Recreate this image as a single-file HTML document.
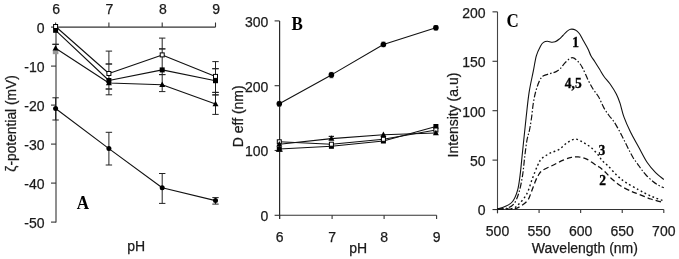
<!DOCTYPE html>
<html><head><meta charset="utf-8"><title>Figure</title>
<style>
html,body{margin:0;padding:0;background:#fff;}
body{width:679px;height:259px;overflow:hidden;}
svg{display:block;will-change:transform;}

</style></head>
<body>
<svg width="679" height="259" viewBox="0 0 679 259">
<rect width="679" height="259" fill="#fff"/>
<line x1="55.60" y1="27.10" x2="215.50" y2="27.10" stroke="#333" stroke-width="1.1" />
<line x1="56.00" y1="27.10" x2="56.00" y2="222.60" stroke="#333" stroke-width="1.1" />
<line x1="55.60" y1="22.50" x2="55.60" y2="27.10" stroke="#333" stroke-width="1.1" />
<text x="56.20" y="13.80" text-anchor="middle" font-family="'Liberation Sans', sans-serif" font-size="14" font-weight="normal" fill="#1a1a1a" stroke="#1a1a1a" stroke-width="0.25" >6</text>
<line x1="108.90" y1="22.50" x2="108.90" y2="27.10" stroke="#333" stroke-width="1.1" />
<text x="109.50" y="13.80" text-anchor="middle" font-family="'Liberation Sans', sans-serif" font-size="14" font-weight="normal" fill="#1a1a1a" stroke="#1a1a1a" stroke-width="0.25" >7</text>
<line x1="162.20" y1="22.50" x2="162.20" y2="27.10" stroke="#333" stroke-width="1.1" />
<text x="162.80" y="13.80" text-anchor="middle" font-family="'Liberation Sans', sans-serif" font-size="14" font-weight="normal" fill="#1a1a1a" stroke="#1a1a1a" stroke-width="0.25" >8</text>
<line x1="215.50" y1="22.50" x2="215.50" y2="27.10" stroke="#333" stroke-width="1.1" />
<text x="216.10" y="13.80" text-anchor="middle" font-family="'Liberation Sans', sans-serif" font-size="14" font-weight="normal" fill="#1a1a1a" stroke="#1a1a1a" stroke-width="0.25" >9</text>
<line x1="51.00" y1="27.10" x2="56.00" y2="27.10" stroke="#333" stroke-width="1.1" />
<text x="44.60" y="33.00" text-anchor="end" font-family="'Liberation Sans', sans-serif" font-size="14" font-weight="normal" fill="#1a1a1a" stroke="#1a1a1a" stroke-width="0.25" >0</text>
<line x1="51.00" y1="66.10" x2="56.00" y2="66.10" stroke="#333" stroke-width="1.1" />
<text x="44.60" y="72.00" text-anchor="end" font-family="'Liberation Sans', sans-serif" font-size="14" font-weight="normal" fill="#1a1a1a" stroke="#1a1a1a" stroke-width="0.25" >-10</text>
<line x1="51.00" y1="105.10" x2="56.00" y2="105.10" stroke="#333" stroke-width="1.1" />
<text x="44.60" y="111.00" text-anchor="end" font-family="'Liberation Sans', sans-serif" font-size="14" font-weight="normal" fill="#1a1a1a" stroke="#1a1a1a" stroke-width="0.25" >-20</text>
<line x1="51.00" y1="144.10" x2="56.00" y2="144.10" stroke="#333" stroke-width="1.1" />
<text x="44.60" y="150.00" text-anchor="end" font-family="'Liberation Sans', sans-serif" font-size="14" font-weight="normal" fill="#1a1a1a" stroke="#1a1a1a" stroke-width="0.25" >-30</text>
<line x1="51.00" y1="183.10" x2="56.00" y2="183.10" stroke="#333" stroke-width="1.1" />
<text x="44.60" y="189.00" text-anchor="end" font-family="'Liberation Sans', sans-serif" font-size="14" font-weight="normal" fill="#1a1a1a" stroke="#1a1a1a" stroke-width="0.25" >-40</text>
<line x1="51.00" y1="222.10" x2="56.00" y2="222.10" stroke="#333" stroke-width="1.1" />
<text x="44.60" y="228.00" text-anchor="end" font-family="'Liberation Sans', sans-serif" font-size="14" font-weight="normal" fill="#1a1a1a" stroke="#1a1a1a" stroke-width="0.25" >-50</text>
<line x1="55.60" y1="44.30" x2="55.60" y2="44.30" stroke="#222" stroke-width="1.0" />
<line x1="52.40" y1="44.30" x2="58.80" y2="44.30" stroke="#222" stroke-width="1.0" />
<line x1="52.40" y1="44.30" x2="58.80" y2="44.30" stroke="#222" stroke-width="1.0" />
<line x1="55.60" y1="97.80" x2="55.60" y2="120.00" stroke="#222" stroke-width="1.0" />
<line x1="52.40" y1="97.80" x2="58.80" y2="97.80" stroke="#222" stroke-width="1.0" />
<line x1="52.40" y1="120.00" x2="58.80" y2="120.00" stroke="#222" stroke-width="1.0" />
<line x1="108.90" y1="51.10" x2="108.90" y2="94.80" stroke="#222" stroke-width="1.0" />
<line x1="105.70" y1="51.10" x2="112.10" y2="51.10" stroke="#222" stroke-width="1.0" />
<line x1="105.70" y1="94.80" x2="112.10" y2="94.80" stroke="#222" stroke-width="1.0" />
<line x1="108.90" y1="64.00" x2="108.90" y2="64.00" stroke="#222" stroke-width="1.0" />
<line x1="105.70" y1="64.00" x2="112.10" y2="64.00" stroke="#222" stroke-width="1.0" />
<line x1="105.70" y1="64.00" x2="112.10" y2="64.00" stroke="#222" stroke-width="1.0" />
<line x1="108.90" y1="89.00" x2="108.90" y2="89.00" stroke="#222" stroke-width="1.0" />
<line x1="105.70" y1="89.00" x2="112.10" y2="89.00" stroke="#222" stroke-width="1.0" />
<line x1="105.70" y1="89.00" x2="112.10" y2="89.00" stroke="#222" stroke-width="1.0" />
<line x1="108.90" y1="132.30" x2="108.90" y2="165.00" stroke="#222" stroke-width="1.0" />
<line x1="105.70" y1="132.30" x2="112.10" y2="132.30" stroke="#222" stroke-width="1.0" />
<line x1="105.70" y1="165.00" x2="112.10" y2="165.00" stroke="#222" stroke-width="1.0" />
<line x1="162.20" y1="38.10" x2="162.20" y2="91.60" stroke="#222" stroke-width="1.0" />
<line x1="159.00" y1="38.10" x2="165.40" y2="38.10" stroke="#222" stroke-width="1.0" />
<line x1="159.00" y1="91.60" x2="165.40" y2="91.60" stroke="#222" stroke-width="1.0" />
<line x1="162.20" y1="48.90" x2="162.20" y2="48.90" stroke="#222" stroke-width="1.0" />
<line x1="159.00" y1="48.90" x2="165.40" y2="48.90" stroke="#222" stroke-width="1.0" />
<line x1="159.00" y1="48.90" x2="165.40" y2="48.90" stroke="#222" stroke-width="1.0" />
<line x1="162.20" y1="74.60" x2="162.20" y2="74.60" stroke="#222" stroke-width="1.0" />
<line x1="159.00" y1="74.60" x2="165.40" y2="74.60" stroke="#222" stroke-width="1.0" />
<line x1="159.00" y1="74.60" x2="165.40" y2="74.60" stroke="#222" stroke-width="1.0" />
<line x1="162.20" y1="173.50" x2="162.20" y2="203.40" stroke="#222" stroke-width="1.0" />
<line x1="159.00" y1="173.50" x2="165.40" y2="173.50" stroke="#222" stroke-width="1.0" />
<line x1="159.00" y1="203.40" x2="165.40" y2="203.40" stroke="#222" stroke-width="1.0" />
<line x1="215.50" y1="61.60" x2="215.50" y2="114.40" stroke="#222" stroke-width="1.0" />
<line x1="212.30" y1="61.60" x2="218.70" y2="61.60" stroke="#222" stroke-width="1.0" />
<line x1="212.30" y1="114.40" x2="218.70" y2="114.40" stroke="#222" stroke-width="1.0" />
<line x1="215.50" y1="68.70" x2="215.50" y2="68.70" stroke="#222" stroke-width="1.0" />
<line x1="212.30" y1="68.70" x2="218.70" y2="68.70" stroke="#222" stroke-width="1.0" />
<line x1="212.30" y1="68.70" x2="218.70" y2="68.70" stroke="#222" stroke-width="1.0" />
<line x1="215.50" y1="92.40" x2="215.50" y2="92.40" stroke="#222" stroke-width="1.0" />
<line x1="212.30" y1="92.40" x2="218.70" y2="92.40" stroke="#222" stroke-width="1.0" />
<line x1="212.30" y1="92.40" x2="218.70" y2="92.40" stroke="#222" stroke-width="1.0" />
<line x1="215.50" y1="94.90" x2="215.50" y2="94.90" stroke="#222" stroke-width="1.0" />
<line x1="212.30" y1="94.90" x2="218.70" y2="94.90" stroke="#222" stroke-width="1.0" />
<line x1="212.30" y1="94.90" x2="218.70" y2="94.90" stroke="#222" stroke-width="1.0" />
<line x1="215.50" y1="197.60" x2="215.50" y2="204.10" stroke="#222" stroke-width="1.0" />
<line x1="212.30" y1="197.60" x2="218.70" y2="197.60" stroke="#222" stroke-width="1.0" />
<line x1="212.30" y1="204.10" x2="218.70" y2="204.10" stroke="#222" stroke-width="1.0" />
<rect x="52.80" y="50.2" width="5.6" height="4" fill="#999"/>
<polyline points="55.60,26.50 108.90,73.50 162.20,54.90 215.50,76.40" fill="none" stroke="#111" stroke-width="1.1" stroke-linejoin="round" />
<polyline points="55.60,30.30 108.90,80.50 162.20,69.90 215.50,80.70" fill="none" stroke="#111" stroke-width="1.1" stroke-linejoin="round" />
<polyline points="55.60,48.30 108.90,83.00 162.20,84.80 215.50,104.00" fill="none" stroke="#111" stroke-width="1.1" stroke-linejoin="round" />
<polyline points="55.60,108.50 108.90,148.60 162.20,187.80 215.50,200.60" fill="none" stroke="#111" stroke-width="1.1" stroke-linejoin="round" />
<polygon points="55.60,45.06 52.60,50.46 58.60,50.46" fill="#000"/>
<polygon points="108.90,79.76 105.90,85.16 111.90,85.16" fill="#000"/>
<polygon points="162.20,81.56 159.20,86.96 165.20,86.96" fill="#000"/>
<polygon points="215.50,100.76 212.50,106.16 218.50,106.16" fill="#000"/>
<rect x="53.10" y="27.80" width="5.0" height="5.0" fill="#000"/>
<rect x="106.40" y="78.00" width="5.0" height="5.0" fill="#000"/>
<rect x="159.70" y="67.40" width="5.0" height="5.0" fill="#000"/>
<rect x="213.00" y="78.20" width="5.0" height="5.0" fill="#000"/>
<rect x="53.60" y="24.50" width="4.0" height="4.0" fill="#fff" stroke="#000" stroke-width="1"/>
<rect x="106.90" y="71.50" width="4.0" height="4.0" fill="#fff" stroke="#000" stroke-width="1"/>
<rect x="160.20" y="52.90" width="4.0" height="4.0" fill="#fff" stroke="#000" stroke-width="1"/>
<rect x="213.50" y="74.40" width="4.0" height="4.0" fill="#fff" stroke="#000" stroke-width="1"/>
<circle cx="55.60" cy="108.50" r="2.5" fill="#000"/>
<circle cx="108.90" cy="148.60" r="2.5" fill="#000"/>
<circle cx="162.20" cy="187.80" r="2.5" fill="#000"/>
<circle cx="215.50" cy="200.60" r="2.5" fill="#000"/>
<text x="136.10" y="250.50" text-anchor="middle" font-family="'Liberation Sans', sans-serif" font-size="14" font-weight="normal" fill="#1a1a1a" stroke="#1a1a1a" stroke-width="0.25" >pH</text>
<text transform="translate(82.80,208.90) scale(1,1.05)" text-anchor="middle" font-family="'Liberation Serif', serif" font-size="17" font-weight="bold" fill="#000" stroke="#000" stroke-width="0.0">A</text>
<text transform="translate(16.3,123.4) rotate(-90)" text-anchor="middle" font-family="'Liberation Sans', sans-serif" font-size="13.8" fill="#1a1a1a" stroke="#1a1a1a" stroke-width="0.25">ζ-potential (mV)</text>
<line x1="279.50" y1="215.30" x2="436.60" y2="215.30" stroke="#333" stroke-width="1.1" />
<line x1="279.60" y1="20.90" x2="279.60" y2="219.10" stroke="#2a2a2a" stroke-width="1.2" />
<line x1="279.60" y1="215.30" x2="279.60" y2="219.10" stroke="#333" stroke-width="1.1" />
<text x="279.60" y="242.30" text-anchor="middle" font-family="'Liberation Sans', sans-serif" font-size="14" font-weight="normal" fill="#1a1a1a" stroke="#1a1a1a" stroke-width="0.25" >6</text>
<line x1="332.10" y1="215.30" x2="332.10" y2="219.10" stroke="#333" stroke-width="1.1" />
<text x="332.10" y="242.30" text-anchor="middle" font-family="'Liberation Sans', sans-serif" font-size="14" font-weight="normal" fill="#1a1a1a" stroke="#1a1a1a" stroke-width="0.25" >7</text>
<line x1="384.10" y1="215.30" x2="384.10" y2="219.10" stroke="#333" stroke-width="1.1" />
<text x="384.10" y="242.30" text-anchor="middle" font-family="'Liberation Sans', sans-serif" font-size="14" font-weight="normal" fill="#1a1a1a" stroke="#1a1a1a" stroke-width="0.25" >8</text>
<line x1="436.60" y1="215.30" x2="436.60" y2="219.10" stroke="#333" stroke-width="1.1" />
<text x="436.60" y="242.30" text-anchor="middle" font-family="'Liberation Sans', sans-serif" font-size="14" font-weight="normal" fill="#1a1a1a" stroke="#1a1a1a" stroke-width="0.25" >9</text>
<line x1="274.60" y1="215.30" x2="279.60" y2="215.30" stroke="#333" stroke-width="1.1" />
<text x="268.30" y="221.20" text-anchor="end" font-family="'Liberation Sans', sans-serif" font-size="14" font-weight="normal" fill="#1a1a1a" stroke="#1a1a1a" stroke-width="0.25" >0</text>
<line x1="274.60" y1="150.50" x2="279.60" y2="150.50" stroke="#333" stroke-width="1.1" />
<text x="268.30" y="156.40" text-anchor="end" font-family="'Liberation Sans', sans-serif" font-size="14" font-weight="normal" fill="#1a1a1a" stroke="#1a1a1a" stroke-width="0.25" >100</text>
<line x1="274.60" y1="85.70" x2="279.60" y2="85.70" stroke="#333" stroke-width="1.1" />
<text x="268.30" y="91.60" text-anchor="end" font-family="'Liberation Sans', sans-serif" font-size="14" font-weight="normal" fill="#1a1a1a" stroke="#1a1a1a" stroke-width="0.25" >200</text>
<line x1="274.60" y1="20.90" x2="279.60" y2="20.90" stroke="#333" stroke-width="1.1" />
<text x="268.30" y="26.80" text-anchor="end" font-family="'Liberation Sans', sans-serif" font-size="14" font-weight="normal" fill="#1a1a1a" stroke="#1a1a1a" stroke-width="0.25" >300</text>
<polyline points="279.30,103.80 331.40,74.90 383.40,44.50 435.90,27.70" fill="none" stroke="#111" stroke-width="1.1" stroke-linejoin="round" />
<polyline points="279.30,144.30 331.40,138.60 383.40,134.80 435.90,133.00" fill="none" stroke="#111" stroke-width="1.1" stroke-linejoin="round" />
<polyline points="279.30,141.80 331.40,144.20 383.40,139.30 435.90,130.00" fill="none" stroke="#111" stroke-width="1.1" stroke-linejoin="round" />
<polyline points="279.30,149.00 331.40,146.30 383.40,141.00 435.90,126.50" fill="none" stroke="#111" stroke-width="1.1" stroke-linejoin="round" />
<line x1="331.40" y1="136.40" x2="331.40" y2="136.40" stroke="#222" stroke-width="1.0" />
<line x1="328.80" y1="136.40" x2="334.00" y2="136.40" stroke="#222" stroke-width="1.0" />
<line x1="328.80" y1="136.40" x2="334.00" y2="136.40" stroke="#222" stroke-width="1.0" />
<line x1="331.40" y1="72.40" x2="331.40" y2="77.80" stroke="#555" stroke-width="0.8" />
<line x1="329.40" y1="72.40" x2="333.40" y2="72.40" stroke="#555" stroke-width="0.8" />
<line x1="329.40" y1="77.80" x2="333.40" y2="77.80" stroke="#555" stroke-width="0.8" />
<line x1="383.40" y1="42.00" x2="383.40" y2="46.70" stroke="#555" stroke-width="0.8" />
<line x1="381.40" y1="42.00" x2="385.40" y2="42.00" stroke="#555" stroke-width="0.8" />
<line x1="381.40" y1="46.70" x2="385.40" y2="46.70" stroke="#555" stroke-width="0.8" />
<line x1="435.90" y1="25.60" x2="435.90" y2="29.90" stroke="#444" stroke-width="0.8" />
<line x1="433.70" y1="25.60" x2="438.10" y2="25.60" stroke="#444" stroke-width="0.8" />
<line x1="433.70" y1="29.90" x2="438.10" y2="29.90" stroke="#444" stroke-width="0.8" />
<line x1="279.30" y1="101.40" x2="279.30" y2="106.20" stroke="#555" stroke-width="0.8" />
<line x1="277.30" y1="101.40" x2="281.30" y2="101.40" stroke="#555" stroke-width="0.8" />
<line x1="277.30" y1="106.20" x2="281.30" y2="106.20" stroke="#555" stroke-width="0.8" />
<line x1="279.30" y1="151.20" x2="279.30" y2="151.20" stroke="#222" stroke-width="1.0" />
<line x1="276.10" y1="151.20" x2="282.50" y2="151.20" stroke="#222" stroke-width="1.0" />
<line x1="276.10" y1="151.20" x2="282.50" y2="151.20" stroke="#222" stroke-width="1.0" />
<rect x="276.80" y="146.50" width="5.0" height="5.0" fill="#000"/>
<rect x="328.90" y="143.80" width="5.0" height="5.0" fill="#000"/>
<rect x="380.90" y="138.50" width="5.0" height="5.0" fill="#000"/>
<rect x="433.40" y="124.00" width="5.0" height="5.0" fill="#000"/>
<rect x="277.30" y="139.80" width="4.0" height="4.0" fill="#fff" stroke="#000" stroke-width="1"/>
<rect x="329.40" y="142.20" width="4.0" height="4.0" fill="#fff" stroke="#000" stroke-width="1"/>
<rect x="381.40" y="137.30" width="4.0" height="4.0" fill="#fff" stroke="#000" stroke-width="1"/>
<rect x="433.90" y="128.00" width="4.0" height="4.0" fill="#fff" stroke="#000" stroke-width="1"/>
<polygon points="279.30,141.06 276.30,146.46 282.30,146.46" fill="#000"/>
<polygon points="331.40,135.36 328.40,140.76 334.40,140.76" fill="#000"/>
<polygon points="383.40,131.56 380.40,136.96 386.40,136.96" fill="#000"/>
<polygon points="435.90,129.76 432.90,135.16 438.90,135.16" fill="#000"/>
<circle cx="279.30" cy="103.80" r="2.8" fill="#000"/>
<circle cx="331.40" cy="74.90" r="2.8" fill="#000"/>
<circle cx="383.40" cy="44.50" r="2.8" fill="#000"/>
<circle cx="435.90" cy="27.70" r="2.8" fill="#000"/>
<text x="358.20" y="253.00" text-anchor="middle" font-family="'Liberation Sans', sans-serif" font-size="14" font-weight="normal" fill="#1a1a1a" stroke="#1a1a1a" stroke-width="0.25" >pH</text>
<text transform="translate(297.20,29.70) scale(1,1.05)" text-anchor="middle" font-family="'Liberation Serif', serif" font-size="17" font-weight="bold" fill="#000" stroke="#000" stroke-width="0.0">B</text>
<text transform="translate(243.4,116.3) rotate(-90)" text-anchor="middle" font-family="'Liberation Sans', sans-serif" font-size="14" fill="#1a1a1a" stroke="#1a1a1a" stroke-width="0.25">D eff (nm)</text>
<line x1="497.50" y1="209.55" x2="663.80" y2="209.55" stroke="#333" stroke-width="1.1" />
<line x1="497.50" y1="11.85" x2="497.50" y2="213.35" stroke="#444" stroke-width="1.1" />
<line x1="497.50" y1="209.55" x2="497.50" y2="213.05" stroke="#333" stroke-width="1.1" />
<text x="497.50" y="236.30" text-anchor="middle" font-family="'Liberation Sans', sans-serif" font-size="14" font-weight="normal" fill="#1a1a1a" stroke="#1a1a1a" stroke-width="0.25" >500</text>
<line x1="539.08" y1="209.55" x2="539.08" y2="213.05" stroke="#333" stroke-width="1.1" />
<text x="539.08" y="236.30" text-anchor="middle" font-family="'Liberation Sans', sans-serif" font-size="14" font-weight="normal" fill="#1a1a1a" stroke="#1a1a1a" stroke-width="0.25" >550</text>
<line x1="580.65" y1="209.55" x2="580.65" y2="213.05" stroke="#333" stroke-width="1.1" />
<text x="580.65" y="236.30" text-anchor="middle" font-family="'Liberation Sans', sans-serif" font-size="14" font-weight="normal" fill="#1a1a1a" stroke="#1a1a1a" stroke-width="0.25" >600</text>
<line x1="622.23" y1="209.55" x2="622.23" y2="213.05" stroke="#333" stroke-width="1.1" />
<text x="622.23" y="236.30" text-anchor="middle" font-family="'Liberation Sans', sans-serif" font-size="14" font-weight="normal" fill="#1a1a1a" stroke="#1a1a1a" stroke-width="0.25" >650</text>
<line x1="663.80" y1="209.55" x2="663.80" y2="213.05" stroke="#333" stroke-width="1.1" />
<text x="663.80" y="236.30" text-anchor="middle" font-family="'Liberation Sans', sans-serif" font-size="14" font-weight="normal" fill="#1a1a1a" stroke="#1a1a1a" stroke-width="0.25" >700</text>
<line x1="492.50" y1="209.55" x2="497.50" y2="209.55" stroke="#333" stroke-width="1.1" />
<text x="485.60" y="215.45" text-anchor="end" font-family="'Liberation Sans', sans-serif" font-size="14" font-weight="normal" fill="#1a1a1a" stroke="#1a1a1a" stroke-width="0.25" >0</text>
<line x1="492.50" y1="160.12" x2="497.50" y2="160.12" stroke="#333" stroke-width="1.1" />
<text x="485.60" y="166.03" text-anchor="end" font-family="'Liberation Sans', sans-serif" font-size="14" font-weight="normal" fill="#1a1a1a" stroke="#1a1a1a" stroke-width="0.25" >50</text>
<line x1="492.50" y1="110.70" x2="497.50" y2="110.70" stroke="#333" stroke-width="1.1" />
<text x="485.60" y="116.60" text-anchor="end" font-family="'Liberation Sans', sans-serif" font-size="14" font-weight="normal" fill="#1a1a1a" stroke="#1a1a1a" stroke-width="0.25" >100</text>
<line x1="492.50" y1="61.28" x2="497.50" y2="61.28" stroke="#333" stroke-width="1.1" />
<text x="485.60" y="67.18" text-anchor="end" font-family="'Liberation Sans', sans-serif" font-size="14" font-weight="normal" fill="#1a1a1a" stroke="#1a1a1a" stroke-width="0.25" >150</text>
<line x1="492.50" y1="11.85" x2="497.50" y2="11.85" stroke="#333" stroke-width="1.1" />
<text x="485.60" y="17.75" text-anchor="end" font-family="'Liberation Sans', sans-serif" font-size="14" font-weight="normal" fill="#1a1a1a" stroke="#1a1a1a" stroke-width="0.25" >200</text>
<path d="M497.50,209.00 C498.75,208.60 502.48,207.85 505.00,206.60 C507.52,205.35 510.50,204.23 512.60,201.50 C514.70,198.77 516.35,194.60 517.60,190.20 C518.85,185.80 519.33,180.97 520.10,175.10 C520.87,169.23 521.20,164.55 522.20,155.00 C523.20,145.45 524.95,128.23 526.10,117.80 C527.25,107.37 527.90,100.17 529.10,92.40 C530.30,84.63 532.08,77.33 533.30,71.20 C534.52,65.07 535.18,59.80 536.40,55.60 C537.62,51.40 539.42,48.20 540.60,46.00 C541.78,43.80 542.37,43.18 543.50,42.40 C544.63,41.62 546.10,41.33 547.40,41.30 C548.70,41.27 550.02,42.12 551.30,42.20 C552.58,42.28 553.82,42.28 555.10,41.80 C556.38,41.32 557.70,40.35 559.00,39.30 C560.30,38.25 561.62,36.78 562.90,35.50 C564.18,34.22 565.42,32.63 566.70,31.60 C567.98,30.57 569.15,29.57 570.60,29.30 C572.05,29.03 573.95,29.30 575.40,30.00 C576.85,30.70 578.02,31.78 579.30,33.50 C580.58,35.22 581.65,37.72 583.10,40.30 C584.55,42.88 586.70,46.43 588.00,49.00 C589.30,51.57 589.78,53.62 590.90,55.70 C592.02,57.78 593.25,59.23 594.70,61.50 C596.15,63.77 598.05,66.80 599.60,69.30 C601.15,71.80 602.25,74.05 604.00,76.50 C605.75,78.95 608.05,81.08 610.10,84.00 C612.15,86.92 614.65,90.80 616.30,94.00 C617.95,97.20 618.72,99.35 620.00,103.20 C621.28,107.05 622.25,112.30 624.00,117.10 C625.75,121.90 628.02,126.93 630.50,132.00 C632.98,137.07 636.08,142.37 638.90,147.50 C641.72,152.63 644.62,158.62 647.40,162.80 C650.18,166.98 652.87,169.82 655.60,172.60 C658.33,175.38 662.43,178.35 663.80,179.50" fill="none" stroke="#111" stroke-width="1.1" />
<path d="M497.50,209.00 C498.97,208.88 503.58,209.13 506.30,208.30 C509.02,207.47 511.70,206.60 513.80,204.00 C515.90,201.40 517.43,197.52 518.90,192.70 C520.37,187.88 521.62,181.22 522.60,175.10 C523.58,168.98 524.07,161.85 524.80,156.00 C525.53,150.15 526.22,144.33 527.00,140.00 C527.78,135.67 528.75,133.67 529.50,130.00 C530.25,126.33 530.88,122.33 531.50,118.00 C532.12,113.67 532.52,108.33 533.20,104.00 C533.88,99.67 534.55,95.87 535.60,92.00 C536.65,88.13 538.18,83.50 539.50,80.80 C540.82,78.10 541.77,76.98 543.50,75.80 C545.23,74.62 547.78,74.40 549.90,73.70 C552.02,73.00 554.43,72.48 556.20,71.60 C557.97,70.72 558.90,70.00 560.50,68.40 C562.10,66.80 563.85,63.78 565.80,62.00 C567.75,60.22 570.08,57.70 572.20,57.70 C574.32,57.70 576.73,60.22 578.50,62.00 C580.27,63.78 581.20,65.40 582.80,68.40 C584.40,71.40 586.33,76.47 588.10,80.00 C589.87,83.53 591.63,86.77 593.40,89.60 C595.17,92.43 596.95,93.95 598.70,97.00 C600.45,100.05 602.18,104.82 603.90,107.90 C605.62,110.98 607.40,113.32 609.00,115.50 C610.60,117.68 612.00,118.83 613.50,121.00 C615.00,123.17 616.58,126.00 618.00,128.50 C619.42,131.00 620.75,133.58 622.00,136.00 C623.25,138.42 624.33,140.67 625.50,143.00 C626.67,145.33 627.75,147.58 629.00,150.00 C630.25,152.42 631.58,155.20 633.00,157.50 C634.42,159.80 636.08,161.80 637.50,163.80 C638.92,165.80 640.08,167.63 641.50,169.50 C642.92,171.37 644.13,173.03 646.00,175.00 C647.87,176.97 650.70,179.63 652.70,181.30 C654.70,182.97 656.15,183.92 658.00,185.00 C659.85,186.08 662.83,187.33 663.80,187.80" fill="none" stroke="#111" stroke-width="1.2" stroke-dasharray="6 2 1.5 2"/>
<path d="M497.50,209.00 C500.02,208.88 509.03,209.13 512.60,208.30 C516.17,207.47 516.53,206.40 518.90,204.00 C521.27,201.60 524.58,198.05 526.80,193.90 C529.02,189.75 530.40,183.83 532.20,179.10 C534.00,174.37 536.03,168.88 537.60,165.50 C539.17,162.12 539.58,160.82 541.60,158.80 C543.62,156.78 546.77,154.98 549.70,153.40 C552.63,151.82 556.27,151.10 559.20,149.30 C562.13,147.50 564.60,144.30 567.30,142.60 C570.00,140.90 572.70,139.10 575.40,139.10 C578.10,139.10 580.80,141.12 583.50,142.60 C586.20,144.08 589.12,145.90 591.60,148.00 C594.08,150.10 596.67,153.12 598.40,155.20 C600.13,157.28 600.43,158.77 602.00,160.50 C603.57,162.23 605.23,163.03 607.80,165.60 C610.37,168.17 614.35,173.07 617.40,175.90 C620.45,178.73 622.62,180.32 626.10,182.60 C629.58,184.88 634.80,187.65 638.30,189.60 C641.80,191.55 644.32,192.93 647.10,194.30 C649.88,195.67 652.22,196.72 655.00,197.80 C657.78,198.88 662.33,200.30 663.80,200.80" fill="none" stroke="#111" stroke-width="1.4" stroke-dasharray="1.8 2.6"/>
<path d="M497.50,209.00 C500.02,209.00 508.83,209.42 512.60,209.00 C516.37,208.58 517.58,207.95 520.10,206.50 C522.62,205.05 525.80,202.80 527.70,200.30 C529.60,197.80 530.20,194.72 531.50,191.50 C532.80,188.28 534.33,183.75 535.50,181.00 C536.67,178.25 537.33,176.78 538.50,175.00 C539.67,173.22 540.18,171.88 542.50,170.30 C544.82,168.72 548.95,167.20 552.40,165.50 C555.85,163.80 560.03,161.45 563.20,160.10 C566.37,158.75 568.92,157.93 571.40,157.40 C573.88,156.87 575.63,156.67 578.10,156.90 C580.57,157.13 583.50,157.62 586.20,158.80 C588.90,159.98 592.00,162.53 594.30,164.00 C596.60,165.47 598.18,166.27 600.00,167.60 C601.82,168.93 603.17,170.05 605.20,172.00 C607.23,173.95 609.58,176.97 612.20,179.30 C614.82,181.63 617.72,184.00 620.90,186.00 C624.08,188.00 628.27,189.92 631.30,191.30 C634.33,192.68 635.85,193.02 639.10,194.30 C642.35,195.58 646.68,197.60 650.80,199.00 C654.92,200.40 661.63,202.08 663.80,202.70" fill="none" stroke="#111" stroke-width="1.3" stroke-dasharray="5.5 3"/>
<text transform="translate(575.50,46.70) scale(1,1.1)" text-anchor="middle" font-family="'Liberation Serif', serif" font-size="13.5" font-weight="bold" fill="#000" stroke="#000" stroke-width="0.3">1</text>
<text transform="translate(573.20,87.50) scale(1,1.1)" text-anchor="middle" font-family="'Liberation Serif', serif" font-size="13.5" font-weight="bold" fill="#000" stroke="#000" stroke-width="0.3">4,5</text>
<text transform="translate(601.90,154.80) scale(1,1.1)" text-anchor="middle" font-family="'Liberation Serif', serif" font-size="13.5" font-weight="bold" fill="#000" stroke="#000" stroke-width="0.3">3</text>
<text transform="translate(602.50,185.30) scale(1,1.1)" text-anchor="middle" font-family="'Liberation Serif', serif" font-size="13.5" font-weight="bold" fill="#000" stroke="#000" stroke-width="0.3">2</text>
<text transform="translate(512.60,26.80) scale(1,1.05)" text-anchor="middle" font-family="'Liberation Serif', serif" font-size="17" font-weight="bold" fill="#000" stroke="#000" stroke-width="0.0">C</text>
<text x="584.90" y="252.70" text-anchor="middle" font-family="'Liberation Sans', sans-serif" font-size="14" font-weight="normal" fill="#1a1a1a" stroke="#1a1a1a" stroke-width="0.25" >Wavelength (nm)</text>
<text transform="translate(458.4,115.0) rotate(-90)" text-anchor="middle" font-family="'Liberation Sans', sans-serif" font-size="14" fill="#1a1a1a" stroke="#1a1a1a" stroke-width="0.25">Intensity (a.u)</text>
</svg>
</body></html>
